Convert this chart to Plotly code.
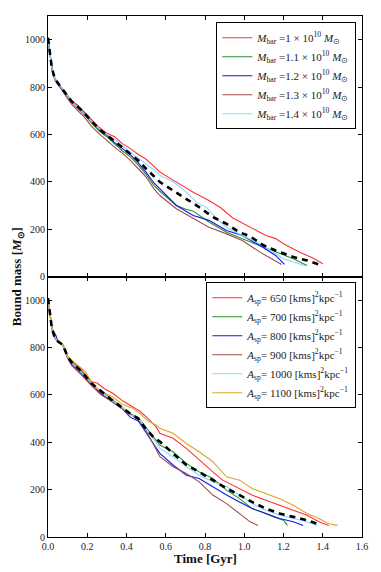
import plotly.graph_objects as go
from plotly.subplots import make_subplots

# ---- top panel: bar mass runs ----
top_red_t = [0, 0.01, 0.02, 0.035, 0.06, 0.09, 0.12, 0.15, 0.18, 0.22, 0.26, 0.30, 0.34, 0.38, 0.42, 0.46, 0.50, 0.54, 0.57, 0.64, 0.70, 0.74, 0.82, 0.88, 0.94, 1.01, 1.06, 1.11, 1.16, 1.20, 1.25, 1.28, 1.35, 1.40]
top_red_m = [1010, 940, 880, 835, 805, 775, 742, 725, 700, 665, 630, 605, 590, 560, 540, 515, 495, 465, 441, 406, 375, 356, 321, 290, 248, 215, 195, 173, 160, 138, 115, 103, 78, 54]

top_green_t = [0, 0.01, 0.02, 0.035, 0.06, 0.09, 0.12, 0.15, 0.18, 0.22, 0.26, 0.30, 0.34, 0.38, 0.42, 0.46, 0.50, 0.54, 0.57, 0.654, 0.70, 0.74, 0.82, 0.91, 0.99, 1.08, 1.16, 1.25, 1.32]
top_green_m = [1005, 935, 878, 832, 803, 772, 738, 712, 688, 650, 615, 590, 560, 530, 505, 470, 430, 385, 360, 300, 285, 276, 230, 187, 159, 131, 103, 75, 46]

top_blue_t = [0, 0.01, 0.02, 0.035, 0.06, 0.09, 0.12, 0.15, 0.18, 0.22, 0.26, 0.30, 0.34, 0.38, 0.42, 0.46, 0.50, 0.54, 0.57, 0.654, 0.74, 0.82, 0.91, 0.99, 1.08, 1.16, 1.205]
top_blue_m = [1008, 938, 880, 836, 806, 776, 740, 718, 695, 660, 620, 597, 565, 540, 515, 480, 440, 395, 370, 300, 258, 237, 194, 173, 131, 89, 51]

top_brown_t = [0, 0.01, 0.02, 0.035, 0.06, 0.09, 0.12, 0.15, 0.18, 0.22, 0.26, 0.30, 0.34, 0.38, 0.42, 0.46, 0.50, 0.54, 0.57, 0.654, 0.74, 0.82, 0.91, 0.99, 1.08, 1.15, 1.19]
top_brown_m = [1005, 932, 876, 830, 800, 765, 728, 702, 678, 636, 603, 575, 545, 520, 490, 455, 420, 370, 342, 286, 244, 208, 180, 152, 103, 68, 51]

top_cyan_t = [0, 0.01, 0.02, 0.035, 0.06, 0.09, 0.12, 0.15, 0.18, 0.22, 0.26, 0.30, 0.34, 0.38, 0.42, 0.46, 0.50, 0.54, 0.57, 0.64, 0.705, 0.756, 0.81, 0.86, 0.91, 0.99, 1.08, 1.15, 1.20, 1.25, 1.31]
top_cyan_m = [1000, 935, 878, 835, 805, 774, 740, 715, 690, 660, 625, 600, 580, 550, 525, 500, 475, 450, 427, 399, 356, 314, 290, 244, 208, 173, 138, 103, 75, 61, 46]

top_mean_t = [0, 0.01, 0.02, 0.035, 0.06, 0.09, 0.12, 0.15, 0.18, 0.22, 0.26, 0.30, 0.34, 0.38, 0.42, 0.46, 0.50, 0.54, 0.57, 0.637, 0.705, 0.77, 0.84, 0.91, 0.976, 1.03, 1.10, 1.16, 1.25, 1.32, 1.38]
top_mean_m = [1007, 937, 879, 834, 804, 773, 740, 718, 695, 658, 622, 597, 570, 545, 520, 490, 455, 425, 399, 363, 328, 293, 251, 222, 187, 169, 131, 110, 82, 68, 51]

# ---- bottom panel: A_sp runs ----
bot_650_t = [0, 0.01, 0.02, 0.035, 0.05, 0.076, 0.10, 0.12, 0.17, 0.22, 0.25, 0.29, 0.33, 0.38, 0.43, 0.47, 0.51, 0.55, 0.57, 0.637, 0.705, 0.77, 0.84, 0.89, 0.976, 1.04, 1.11, 1.18, 1.25, 1.32, 1.38, 1.43]
bot_650_m = [1010, 940, 880, 840, 826, 812, 763, 741, 706, 657, 650, 625, 607, 575, 551, 530, 500, 466, 438, 417, 374, 325, 275, 240, 205, 177, 155, 134, 113, 92, 64, 49]

bot_700_t = [0, 0.01, 0.02, 0.035, 0.05, 0.076, 0.10, 0.12, 0.17, 0.22, 0.27, 0.32, 0.38, 0.42, 0.46, 0.50, 0.54, 0.57, 0.637, 0.705, 0.77, 0.84, 0.91, 0.976, 1.04, 1.09, 1.15, 1.20, 1.22]
bot_700_m = [1008, 938, 880, 840, 826, 810, 760, 735, 700, 650, 615, 585, 545, 520, 505, 460, 420, 388, 360, 311, 275, 247, 198, 162, 120, 106, 85, 71, 49]

bot_800_t = [0, 0.01, 0.02, 0.04, 0.05, 0.076, 0.10, 0.12, 0.17, 0.22, 0.27, 0.32, 0.38, 0.42, 0.46, 0.50, 0.54, 0.57, 0.637, 0.705, 0.77, 0.84, 0.91, 0.976, 1.04, 1.11, 1.18, 1.25, 1.30]
bot_800_m = [1008, 938, 880, 852, 828, 810, 758, 730, 690, 645, 605, 575, 540, 505, 490, 440, 390, 353, 304, 261, 247, 212, 177, 148, 120, 99, 78, 64, 49]

bot_900_t = [0, 0.01, 0.02, 0.035, 0.05, 0.076, 0.10, 0.12, 0.17, 0.22, 0.27, 0.32, 0.38, 0.42, 0.46, 0.50, 0.54, 0.57, 0.637, 0.705, 0.77, 0.84, 0.91, 0.976, 1.03, 1.07]
bot_900_m = [1006, 936, 878, 838, 824, 808, 755, 725, 685, 640, 600, 575, 540, 515, 495, 450, 385, 339, 297, 268, 233, 177, 141, 99, 64, 49]

bot_1000_t = [0, 0.01, 0.02, 0.035, 0.05, 0.076, 0.10, 0.12, 0.17, 0.22, 0.27, 0.32, 0.38, 0.42, 0.46, 0.50, 0.54, 0.57, 0.637, 0.705, 0.77, 0.84, 0.91, 0.976, 1.04, 1.11, 1.18, 1.25, 1.32, 1.375]
bot_1000_m = [1005, 936, 878, 840, 825, 811, 762, 735, 695, 650, 615, 580, 545, 515, 505, 460, 410, 374, 339, 297, 261, 233, 212, 177, 141, 113, 92, 78, 64, 49]

bot_1100_t = [0, 0.01, 0.02, 0.035, 0.05, 0.076, 0.10, 0.12, 0.19, 0.24, 0.29, 0.33, 0.38, 0.43, 0.47, 0.51, 0.55, 0.57, 0.637, 0.705, 0.77, 0.84, 0.91, 0.976, 1.04, 1.11, 1.18, 1.25, 1.32, 1.38, 1.43, 1.476]
bot_1100_m = [1010, 942, 882, 842, 827, 813, 765, 748, 699, 630, 607, 590, 560, 544, 520, 490, 473, 459, 438, 395, 360, 318, 254, 240, 205, 184, 162, 134, 99, 78, 56, 49]

bot_mean_t = [0, 0.01, 0.02, 0.035, 0.05, 0.076, 0.10, 0.12, 0.17, 0.22, 0.27, 0.32, 0.38, 0.42, 0.46, 0.50, 0.54, 0.57, 0.637, 0.705, 0.77, 0.84, 0.91, 0.976, 1.04, 1.11, 1.18, 1.25, 1.32, 1.37]
bot_mean_m = [1008, 938, 880, 840, 826, 811, 761, 738, 700, 650, 615, 582, 545, 520, 500, 455, 420, 403, 353, 304, 275, 240, 205, 177, 148, 120, 99, 85, 71, 56]

x_ticks = [0.0, 0.2, 0.4, 0.6, 0.8, 1.0, 1.2, 1.4, 1.6]
y_ticks = [0, 200, 400, 600, 800, 1000]

red = "rgb(255,50,50)"
green = "rgb(40,145,40)"
blue = "rgb(20,20,235)"
brown = "rgb(165,75,75)"
cyan = "rgb(135,215,250)"
gold = "rgb(220,165,40)"

top_runs = [
    ("1", top_red_t, top_red_m, red),
    ("1.1", top_green_t, top_green_m, green),
    ("1.2", top_blue_t, top_blue_m, blue),
    ("1.3", top_brown_t, top_brown_m, brown),
    ("1.4", top_cyan_t, top_cyan_m, cyan),
]
bot_runs = [
    ("650", bot_650_t, bot_650_m, red),
    ("700", bot_700_t, bot_700_m, green),
    ("800", bot_800_t, bot_800_m, blue),
    ("900", bot_900_t, bot_900_m, brown),
    ("1000", bot_1000_t, bot_1000_m, cyan),
    ("1100", bot_1100_t, bot_1100_m, gold),
]

serif = "Liberation Serif"

fig = make_subplots(rows=2, cols=1, shared_xaxes=True, vertical_spacing=0)

for value, t, m, color in top_runs:
    fig.add_trace(
        go.Scatter(
            x=t, y=m, mode="lines", line=dict(color=color, width=1.1),
            name=f"<i>M</i><sub>bar</sub> ={value} × 10<sup>10</sup> <i>M</i><sub>⊙</sub>",
            legend="legend",
        ),
        row=1, col=1,
    )
fig.add_trace(
    go.Scatter(x=top_mean_t, y=top_mean_m, mode="lines", showlegend=False,
               line=dict(color="black", width=2.6, dash="6px,5px")),
    row=1, col=1,
)

for value, t, m, color in bot_runs:
    fig.add_trace(
        go.Scatter(
            x=t, y=m, mode="lines", line=dict(color=color, width=1.1),
            name=f"<i>A</i><sub>sp</sub>= {value} [kms]<sup>2</sup>kpc<sup>−1</sup>",
            legend="legend2",
        ),
        row=2, col=1,
    )
fig.add_trace(
    go.Scatter(x=bot_mean_t, y=bot_mean_m, mode="lines", showlegend=False,
               line=dict(color="black", width=2.6, dash="6px,5px")),
    row=2, col=1,
)

axis_style = dict(
    showline=True, mirror="allticks", linecolor="black", linewidth=1,
    ticks="inside", ticklen=4, tickcolor="black", showgrid=False, zeroline=False,
    tickfont=dict(family=serif, size=10, color="#222"),
)
fig.update_xaxes(range=[0, 1.6], tickvals=x_ticks, ticktext=[f"{v:.1f}" for v in x_ticks], **axis_style)
fig.update_yaxes(range=[0, 1100], tickvals=y_ticks, **axis_style)

legend_style = dict(
    bgcolor="white", bordercolor="black", borderwidth=1,
    font=dict(family=serif, size=11, color="#222"),
    xanchor="right", yanchor="top", tracegroupgap=0, itemwidth=30,
)
fig.update_layout(
    width=381, height=572,
    margin=dict(l=48, r=19, t=16, b=35),
    plot_bgcolor="white", paper_bgcolor="white",
    legend=dict(x=0.982, y=0.988, **legend_style),
    legend2=dict(x=0.982, y=0.489, **legend_style),
    annotations=[
        dict(text="<b>Bound mass [<i>M</i><sub>⊙</sub>]</b>", xref="paper", yref="paper",
             x=-0.13, y=0.5, textangle=-90, showarrow=False,
             font=dict(family=serif, size=13, color="#111")),
        dict(text="<b>Time [Gyr]</b>", xref="paper", yref="paper",
             x=0.5, y=-0.041, yanchor="middle", showarrow=False,
             font=dict(family=serif, size=13, color="#111")),
    ],
)

# the page body has a default 8px margin; drop it so the figure fills the window
fig.write_html("out.html", config={"displayModeBar": False},
               post_script="document.body.style.margin='0';")
